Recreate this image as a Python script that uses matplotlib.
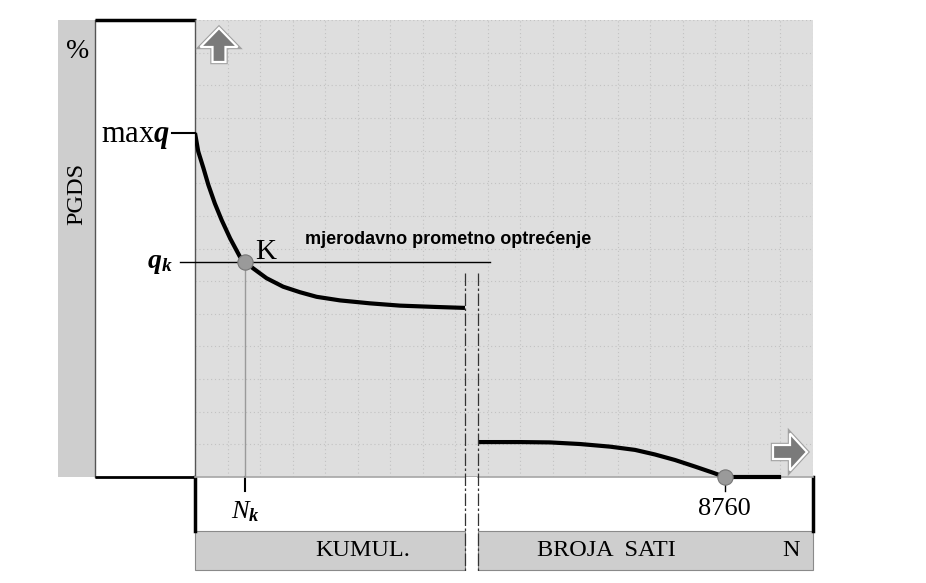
import matplotlib
matplotlib.use("Agg")
import matplotlib.pyplot as plt
from matplotlib.patches import Rectangle, FancyArrow
import numpy as np

plt.rcParams['mathtext.fontset'] = 'custom'
plt.rcParams['mathtext.rm'] = 'Liberation Serif'
plt.rcParams['mathtext.it'] = 'Liberation Serif:italic'
plt.rcParams['mathtext.bf'] = 'Liberation Serif:bold'
plt.rcParams['mathtext.bfit'] = 'Liberation Serif:italic:bold'

SERIF = 'Liberation Serif'

# curve in grid units (19 columns x 14 rows of the plot field)
left_x = [0.00, 0.10, 0.26, 0.41, 0.61, 0.82, 1.08, 1.38, 1.54, 1.79, 2.20, 2.71,
          3.23, 3.74, 4.46, 5.38, 6.30, 7.38, 8.30]
left_y = [10.54, 9.97, 9.46, 8.95, 8.38, 7.87, 7.31, 6.75, 6.59, 6.39, 6.09, 5.83,
          5.66, 5.52, 5.41, 5.32, 5.25, 5.21, 5.18]
right_x = [8.70, 9.99, 10.91, 11.84, 12.76, 13.53, 14.14, 14.76, 15.37, 15.90, 16.29, 18.02]
right_y = [1.07, 1.07, 1.06, 1.01, 0.93, 0.83, 0.69, 0.52, 0.32, 0.14, 0.00, 0.00]

k_point = (1.54, 6.59)      # K  (N_k, q_k)
end_point = (16.29, 0.0)    # 8760 h
maxq_y = left_y[0]
break_x = [8.30, 8.70]

label_line = "mjerodavno prometno optrećenje"
bottom_labels = ["KUMUL.", "BROJA  SATI", "N"]

fig = plt.figure(figsize=(9.26, 5.83), dpi=100)

# background layer in pixel coordinates
bg = fig.add_axes([0, 0, 1, 1])
bg.set_xlim(0, 926)
bg.set_ylim(583, 0)
bg.axis('off')

strip = '#cecece'
bg.add_patch(Rectangle((58, 20), 37, 457, fc=strip, ec='none'))
bg.plot([95, 95], [20, 477], color='#555555', lw=1)
bg.plot([95, 196], [20, 20], color='black', lw=2.5, solid_capstyle='butt')
bg.plot([95, 196], [477, 477], color='black', lw=2, solid_capstyle='butt')
bg.add_patch(Rectangle((195, 531), 270, 39, fc=strip, ec='#8a8a8a', lw=0.8))
bg.add_patch(Rectangle((478, 531), 335, 39, fc=strip, ec='#8a8a8a', lw=0.8))
bg.plot([195, 195], [477, 531], color='black', lw=2.5)
bg.plot([813, 813], [477, 531], color='black', lw=2.5)

bg.text(78, 52, "%", family=SERIF, fontsize=20, ha='center', va='center')
bg.text(77, 194, "PGDS", family=SERIF, fontsize=17.5, rotation=90, ha='center', va='center')
bg.text(363, 551, bottom_labels[0], family=SERIF, fontsize=17.5, ha='center', va='center')
bg.text(606, 551, bottom_labels[1], family=SERIF, fontsize=17.5, ha='center', va='center')
bg.text(791, 551, bottom_labels[2], family=SERIF, fontsize=17.5, ha='center', va='center')

# plot field
ax = fig.add_axes([195 / 926, (583 - 477) / 583, 618 / 926, 457 / 583])
ax.set_facecolor('#dedede')
ax.set_xlim(0, 19)
ax.set_ylim(0, 14)
ax.set_xticks(np.arange(0, 20))
ax.set_yticks(np.arange(0, 15))
ax.tick_params(length=0, labelbottom=False, labelleft=False)
ax.grid(True, color='#c2c2c2', linestyle=(0, (1, 2.5)), lw=0.8)
for s in ['top', 'right']:
    ax.spines[s].set_visible(False)
ax.spines['left'].set_color('#555555')
ax.spines['left'].set_linewidth(1)
ax.spines['bottom'].set_color('#a6a6a6')
ax.spines['bottom'].set_linewidth(1.2)

ax.plot(left_x, left_y, color='black', lw=3, solid_capstyle='butt',
        solid_joinstyle='round', zorder=4)
ax.plot(right_x, right_y, color='black', lw=3, solid_capstyle='butt',
        solid_joinstyle='round', zorder=4, clip_on=False)

# guide lines
ax.plot([-0.46, 9.07], [k_point[1], k_point[1]], color='black', lw=1, clip_on=False, zorder=3)
ax.plot([-0.71, 0], [maxq_y, maxq_y], color='black', lw=1.5, clip_on=False, zorder=3)
ax.plot([k_point[0], k_point[0]], [0, k_point[1]], color='#9a9a9a', lw=1, zorder=3)
ax.plot([k_point[0], k_point[0]], [0, -0.42], color='black', lw=1.5, clip_on=False)
ax.plot([end_point[0], end_point[0]], [0, -0.42], color='black', lw=1, clip_on=False)

ax.plot(*k_point, 'o', ms=11, mfc='#9a9a9a', mec='#777777', mew=0.8, zorder=5)
ax.plot(*end_point, 'o', ms=11, mfc='#9a9a9a', mec='#777777', mew=0.8, zorder=5, clip_on=False)

ax.annotate(r'max$\mathbfit{q}$', xy=(0, maxq_y), xytext=(-25, -9), textcoords='offset pixels',
            ha='right', va='baseline', fontsize=22, family=SERIF, annotation_clip=False)
ax.annotate(r'$\mathbfit{q}_{\mathbfit{k}}$', xy=(0, k_point[1]), xytext=(-22, -6), textcoords='offset pixels',
            ha='right', va='baseline', fontsize=20, annotation_clip=False)
ax.annotate('K', xy=k_point, xytext=(10, 3), textcoords='offset pixels',
            ha='left', va='baseline', fontsize=21, family=SERIF)
ax.annotate(r'$\mathit{N}_{\mathbfit{k}}$', xy=(k_point[0], 0), xytext=(-14, -41), textcoords='offset pixels',
            ha='left', va='baseline', fontsize=19, annotation_clip=False)
ax.annotate('8760', xy=end_point, xytext=(0, -38), textcoords='offset pixels',
            ha='center', va='baseline', fontsize=19, family=SERIF, annotation_clip=False)
ax.text(3.38, 7.14, label_line, family='Liberation Sans', fontweight='bold', fontsize=13,
        ha='left', va='baseline')

# top layer: break marks and arrows, in pixels
top = fig.add_axes([0, 0, 1, 1], zorder=5)
top.set_xlim(0, 926)
top.set_ylim(583, 0)
top.axis('off')
top.patch.set_alpha(0)
top.add_patch(Rectangle((466, 477), 11, 95, fc='white', ec='none'))
for bx in break_x:
    px = 195 + bx * 618 / 19
    top.plot([px, px], [273, 572], color='#333333', lw=0.9, linestyle=(0, (10, 2, 2, 2)))

for edge, lw in [('#a0a0a0', 3.2), ('white', 1.6)]:
    top.add_patch(FancyArrow(219, 62, 0, -34, width=13, head_width=37, head_length=19,
                             length_includes_head=True, fc='#7a7a7a', ec=edge, lw=lw))
    top.add_patch(FancyArrow(773, 452, 34, 0, width=14, head_width=37, head_length=17,
                             length_includes_head=True, fc='#7a7a7a', ec=edge, lw=lw))

fig.savefig("out.png", dpi=100)
